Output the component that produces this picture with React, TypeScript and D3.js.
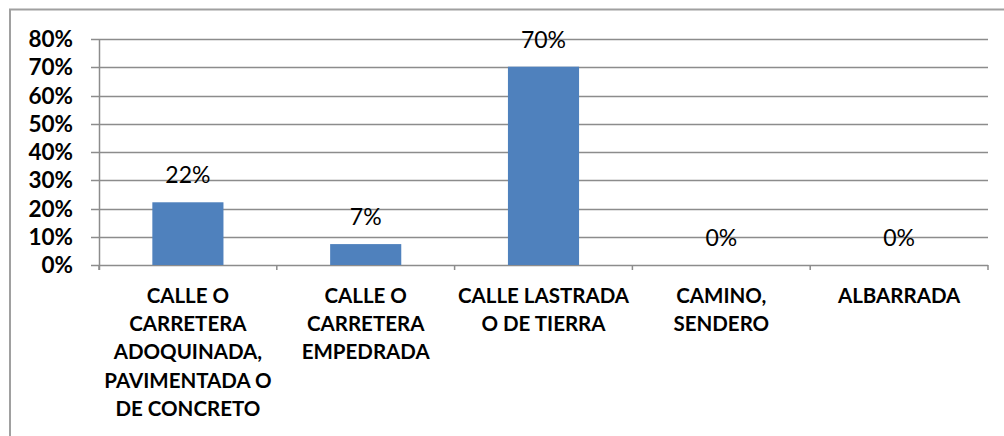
import React from "react";
import * as d3 from "d3";

const categories: string[] = [
  "CALLE O\nCARRETERA\nADOQUINADA,\nPAVIMENTADA O\nDE CONCRETO",
  "CALLE O\nCARRETERA\nEMPEDRADA",
  "CALLE LASTRADA\nO DE TIERRA",
  "CAMINO,\nSENDERO",
  "ALBARRADA",
];
const values: number[] = [0.222, 0.074, 0.702, 0, 0];
const yTicks: number[] = [0, 0.1, 0.2, 0.3, 0.4, 0.5, 0.6, 0.7, 0.8];

const W = 1004;
const H = 436;
const left = 99;
const right = 988;
const top = 39;
const bottom = 265;
const FONT = "Lato, 'Open Sans', sans-serif";

export default function App() {
  const x = d3.scaleBand<string>().domain(categories).range([left, right]).paddingInner(0.6).paddingOuter(0.3);
  const y = d3.scaleLinear().domain([0, 0.8]).range([bottom, top]);
  const fmt = d3.format(".0%");
  const step = x.step();
  const boundaries = d3.range(categories.length + 1).map((i) => left + i * step);

  return (
    <svg width={W} height={H} style={{ position: "absolute", left: 0, top: 0, background: "#fff" }}>
      <rect x={10} y={9.5} width={1100} height={600} fill="#fff" stroke="#a0a0a0" strokeWidth={2} />
      {yTicks.map((t) => (
        <g key={t}>
          <line x1={91} x2={right} y1={Math.round(y(t)) + 0.5} y2={Math.round(y(t)) + 0.5} stroke="#8c8c8c" strokeWidth={1.5} />
          <text x={73} y={y(t) + 8} textAnchor="end" fontFamily={FONT} fontWeight="bold" fontSize={22.5} fill="#000">
            {fmt(t)}
          </text>
        </g>
      ))}
      <line x1={left + 0.5} x2={left + 0.5} y1={top} y2={bottom + 5} stroke="#8c8c8c" strokeWidth={1.5} />
      {boundaries.map((b, i) => (
        <line key={i} x1={b} x2={b} y1={bottom} y2={bottom + 5} stroke="#8c8c8c" strokeWidth={1.5} />
      ))}
      {categories.map((c, i) => (
        <rect key={c} x={x(c)} y={y(values[i])} width={x.bandwidth()} height={bottom - y(values[i])} fill="#4F81BD" />
      ))}
      {categories.map((c, i) => (
        <text key={"v" + i} x={(x(c) as number) + x.bandwidth() / 2} y={y(values[i]) - 19} textAnchor="middle" fontFamily={FONT} fontSize={23} fill="#000">
          {fmt(values[i])}
        </text>
      ))}
      {categories.map((c, i) => (
        <text key={"c" + i} x={(x(c) as number) + x.bandwidth() / 2} y={303} textAnchor="middle" fontFamily={FONT} fontWeight="bold" fontSize={20.5} fill="#000">
          {c.split("\n").map((line, j) => (
            <tspan key={j} x={(x(c) as number) + x.bandwidth() / 2} dy={j === 0 ? 0 : 28.2}>
              {line}
            </tspan>
          ))}
        </text>
      ))}
    </svg>
  );
}
